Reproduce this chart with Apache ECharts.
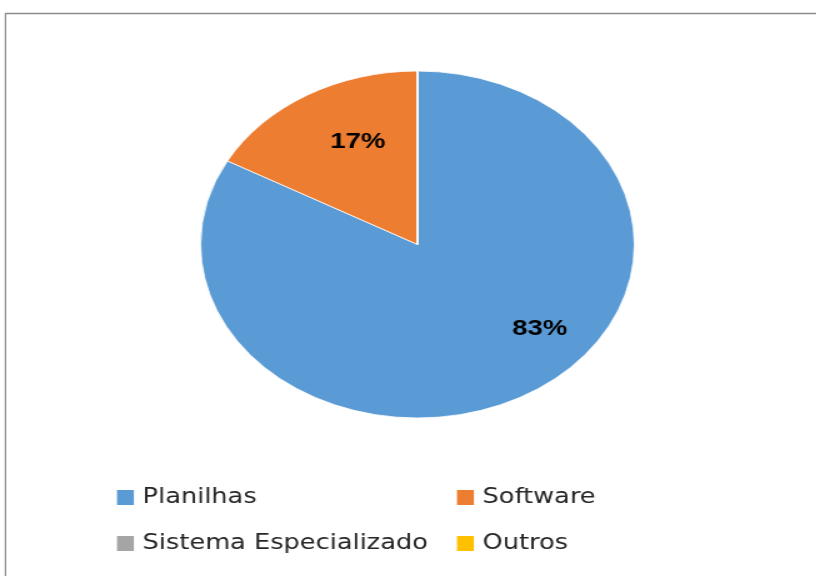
<!DOCTYPE html>
<html>
<head>
<meta charset="utf-8">
<script src="https://cdn.jsdelivr.net/npm/echarts@6/dist/echarts.min.js"></script>
<style>
html,body{margin:0;padding:0;overflow:hidden;background:#fff;}
#chart{width:653px;height:576px;transform:scaleX(1.25);transform-origin:0 0;}
</style>
</head>
<body>
<div id="chart"></div>
<script>
const categories = ['Planilhas', 'Software', 'Sistema Especializado', 'Outros'];
const values = [83, 17, 0, 0];
const colors = ['#5B9BD5', '#ED7D31', '#A5A5A5', '#FFC000'];
const labelOffsets = [[52, 7], [-2, -25], [0, 0], [0, 0]];

const SX = 1.25;
const chart = echarts.init(document.getElementById('chart'), null, {renderer: 'canvas'});

const data = categories.map((c, i) => ({
  name: c,
  value: values[i],
  itemStyle: {color: colors[i]},
  label: {show: values[i] > 0}
}));

const legendText = {fontFamily: 'DejaVu Sans', fontSize: 20.5, color: '#262626', lineHeight: 21, padding: [0, 0, 0, 2]};
const legendBase = {
  orient: 'vertical', top: 487, itemWidth: 13.5, itemHeight: 15, itemGap: 25, padding: 0,
  icon: 'rect', textStyle: legendText, selectedMode: false,
  itemStyle: {borderWidth: 0}
};

chart.setOption({
  animation: false,
  backgroundColor: '#fff',
  graphic: [
    {type: 'line', shape: {x1: 5 / SX, y1: 13.5, x2: 653, y2: 13.5}, style: {stroke: '#8c8c8c', lineWidth: 1.5}},
    {type: 'line', shape: {x1: 5.5 / SX, y1: 13, x2: 5.5 / SX, y2: 576}, style: {stroke: '#8c8c8c', lineWidth: 1.5 / SX}}
  ],
  legend: [
    Object.assign({}, legendBase, {left: 117 / SX, data: [categories[0], categories[2]]}),
    Object.assign({}, legendBase, {left: 457 / SX, data: [categories[1], categories[3]]})
  ],
  series: [{
    type: 'pie',
    center: [417.5 / SX, 244.5],
    radius: [0, 173.5],
    startAngle: 90,
    clockwise: true,
    avoidLabelOverlap: false,
    stillShowZeroSum: false,
    itemStyle: {borderColor: '#ffffff', borderWidth: 0.8},
    label: {
      position: 'inside',
      formatter: p => Math.round(p.percent) + '%',
      fontFamily: 'Liberation Sans',
      fontWeight: 'bold',
      fontSize: 22,
      color: '#000'
    },
    labelLine: {show: false},
    emphasis: {disabled: true},
    labelLayout: p => {
      const o = labelOffsets[p.dataIndex];
      return {dx: o[0], dy: o[1]};
    },
    data: data
  }]
});
</script>
</body>
</html>
